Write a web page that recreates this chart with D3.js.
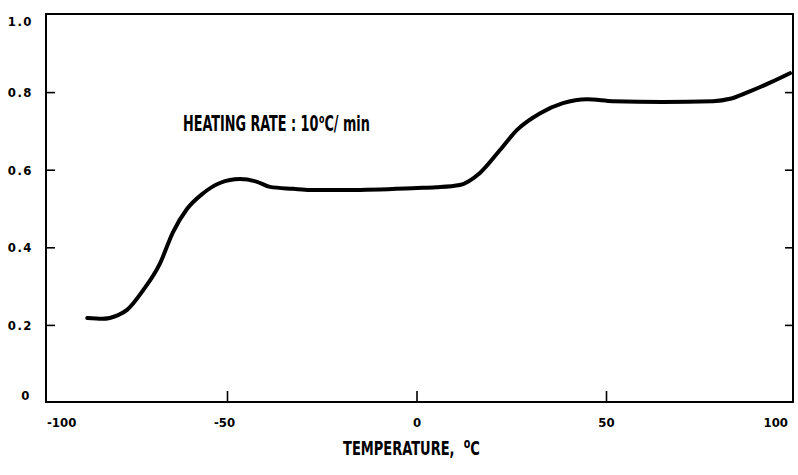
<!DOCTYPE html>
<html>
<head>
<meta charset="utf-8">
<script src="https://cdn.jsdelivr.net/npm/d3@7"></script>
<style>
  html, body { margin: 0; padding: 0; background: #fff; }
  svg text { font-family: "DejaVu Sans Condensed", "Liberation Sans Narrow", "Liberation Sans", sans-serif; fill: #000; }
</style>
</head>
<body>
<svg id="chart" width="798" height="475"></svg>
<script>
// Thermal curve: temperature (°C) vs. normalized signal
const temperature = [-87, -83, -79, -76.5, -72.3, -67.8, -64.4, -60.7, -56.5, -52, -46.7, -42.2, -38.8, -32.7, -28.2, -17.7, 0, 5, 11.3, 16.6, 21.9, 26.4, 32.5, 38.5, 44.9, 51.7, 64.9, 78.1, 82.6, 87, 93, 98.4];
const signal      = [0.219, 0.217, 0.226, 0.24, 0.29, 0.36, 0.44, 0.50, 0.54, 0.567, 0.577, 0.57, 0.557, 0.552, 0.549, 0.549, 0.554, 0.556, 0.562, 0.593, 0.652, 0.704, 0.747, 0.773, 0.783, 0.778, 0.776, 0.778, 0.784, 0.80, 0.825, 0.85];

const xTicks = [-100, -50, 0, 50, 100];
const yTicks = [0, 0.2, 0.4, 0.6, 0.8, 1.0];
const yTickLabels = ["0", "0.2", "0.4", "0.6", "0.8", "1.0"];

const svg = d3.select("#chart");

const x = d3.scaleLinear().domain([-100, 100]).range([38, 796]);
const y = d3.scaleLinear().domain([0, 1]).range([403, 15]);

// plot frame
const frame = { left: 46, right: 793, top: 14, bottom: 402 };
svg.append("rect")
  .attr("x", frame.left).attr("y", frame.top)
  .attr("width", frame.right - frame.left).attr("height", frame.bottom - frame.top)
  .attr("fill", "none").attr("stroke", "#000").attr("stroke-width", 2);

// inward ticks on left and right edges
const innerY = yTicks.filter(v => v > 0 && v < 1);
svg.selectAll(".ytick-l").data(innerY).join("line")
  .attr("x1", frame.left).attr("x2", frame.left + 9)
  .attr("y1", d => y(d)).attr("y2", d => y(d))
  .attr("stroke", "#000").attr("stroke-width", 1.6);
svg.selectAll(".ytick-r").data(innerY).join("line")
  .attr("x1", frame.right).attr("x2", frame.right - 8)
  .attr("y1", d => y(d)).attr("y2", d => y(d))
  .attr("stroke", "#000").attr("stroke-width", 1.6);

// inward ticks on bottom edge
const innerX = xTicks.filter(v => v > -100 && v < 100);
svg.selectAll(".xtick").data(innerX).join("line")
  .attr("x1", d => x(d)).attr("x2", d => x(d))
  .attr("y1", frame.bottom).attr("y2", frame.bottom - 11)
  .attr("stroke", "#000").attr("stroke-width", 1.6);

// y tick labels
svg.selectAll(".ylab").data(yTicks).join("text")
  .attr("x", d => d === 0 ? 31 : 33)
  .attr("y", d => d === 1 ? y(d) + 7 : d === 0 ? y(d) - 7 : y(d) + 1)
  .attr("text-anchor", "end")
  .attr("dominant-baseline", "middle")
  .attr("font-size", 13)
  .attr("letter-spacing", 1.5)
  .attr("font-weight", 600)
  .text((d, i) => yTickLabels[i]);

// x tick labels
svg.selectAll(".xlab").data(xTicks).join("text")
  .attr("x", d => d === -100 ? x(d) + 9 : d === 100 ? x(d) - 8 : x(d) + (d < 0 ? -3 : 0))
  .attr("y", 427)
  .attr("text-anchor", d => d === -100 ? "start" : d === 100 ? "end" : "middle")
  .attr("font-size", 13)
  .attr("font-weight", 600)
  .text(d => d < 0 ? "-" + Math.abs(d) : String(d));

// text with a raised degree mark, squeezed horizontally to a given width
function degreeLabel(left, baseline, before, after, gap, size, supSize, rise, width) {
  const g = svg.append("g");
  const t = g.append("text")
    .attr("font-size", size)
    .attr("font-weight", 600);
  t.append("tspan").text(before);
  t.append("tspan").attr("dx", gap).attr("dy", -rise).attr("font-size", supSize).text("o");
  t.append("tspan").attr("dx", 0).attr("dy", rise).text(after);
  const w = t.node().getComputedTextLength() + gap;
  g.attr("transform", `translate(${left},${baseline}) scale(${width / w},1)`);
  return g;
}

// axis title
degreeLabel(343, 455, "TEMPERATURE,", "C", 12, 19, 14, 7, 137);

// heating-rate annotation
degreeLabel(183, 131, "HEATING RATE : 10", "C/ min", 1, 21, 13, 8, 187);

// curve
const pts = temperature.map((t, i) => [t, signal[i]]);
const line = d3.line()
  .x(d => x(d[0]))
  .y(d => y(d[1]))
  .curve(d3.curveMonotoneX);
svg.append("path")
  .datum(pts)
  .attr("d", line)
  .attr("fill", "none")
  .attr("stroke", "#000")
  .attr("stroke-width", 4)
  .attr("stroke-linecap", "round")
  .attr("stroke-linejoin", "round");
</script>
</body>
</html>
